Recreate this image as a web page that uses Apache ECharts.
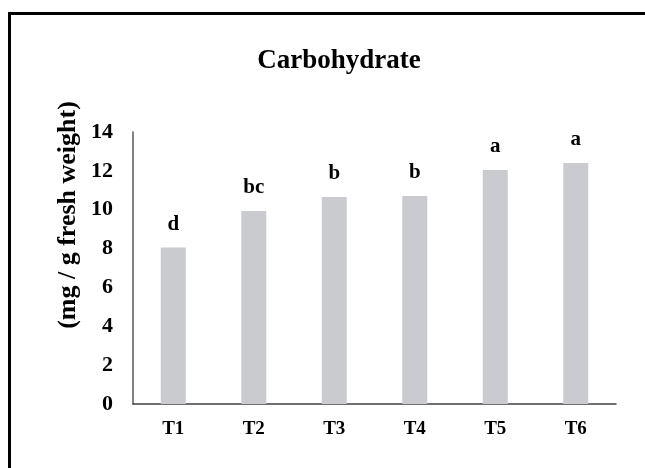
<!DOCTYPE html>
<html>
<head>
<meta charset="utf-8">
<script src="https://cdn.jsdelivr.net/npm/echarts@6/dist/echarts.min.js"></script>
<style>
  html, body { margin: 0; padding: 0; background: #fff; }
  #chart { width: 645px; height: 468px; }
</style>
</head>
<body>
<div id="chart"></div>
<script>
const categories = ['T1', 'T2', 'T3', 'T4', 'T5', 'T6']
const carbohydrate = [8.05, 9.93, 10.65, 10.7, 12.04, 12.4]
const letters = ['d', 'bc', 'b', 'b', 'a', 'a']
const yTitle = '(mg / g fresh weight)'

const serif = '"Liberation Serif", "Times New Roman", serif'

const chart = echarts.init(document.getElementById('chart'))

const option = {
  backgroundColor: '#fff',
  animation: false,
  title: {
    text: 'Carbohydrate',
    left: 334,
    top: 43,
    textAlign: 'center',
    textStyle: { fontFamily: serif, fontSize: 27, fontWeight: 'bold', color: '#000' }
  },
  graphic: [
    // outer frame (cut off on right and bottom in the original)
    {
      type: 'rect',
      shape: { x: 9.5, y: 13.5, width: 800, height: 600 },
      style: { fill: 'none', stroke: '#000', lineWidth: 3 },
      silent: true
    },
    // y axis title, sits higher than the axis middle
    {
      type: 'text',
      x: 68,
      y: 215,
      rotation: Math.PI / 2,
      style: {
        text: yTitle,
        font: 'bold 26px ' + serif,
        fill: '#000',
        align: 'center',
        verticalAlign: 'middle'
      },
      silent: true
    }
  ],
  grid: { left: 133, right: 29, top: 132, bottom: 64 },
  xAxis: {
    type: 'category',
    data: categories,
    axisLine: { lineStyle: { color: '#404040', width: 1.5 } },
    axisTick: { show: false },
    axisLabel: { fontFamily: serif, fontSize: 19, fontWeight: 'bold', color: '#000', margin: 16 }
  },
  yAxis: {
    type: 'value',
    min: 0,
    max: 14,
    interval: 2,
    axisLine: { show: true, lineStyle: { color: '#595959', width: 1.5 } },
    axisTick: { show: false },
    splitLine: { show: false },
    axisLabel: { fontFamily: serif, fontSize: 22, fontWeight: 'bold', color: '#000', margin: 20 }
  },
  series: [{
    type: 'bar',
    data: carbohydrate,
    barWidth: 25,
    itemStyle: { color: '#c9cbce' },
    label: {
      show: true,
      position: 'top',
      distance: 13,
      formatter: p => letters[p.dataIndex],
      fontFamily: serif,
      fontSize: 21,
      fontWeight: 'bold',
      color: '#000'
    }
  }]
}

chart.setOption(option)
</script>
</body>
</html>
